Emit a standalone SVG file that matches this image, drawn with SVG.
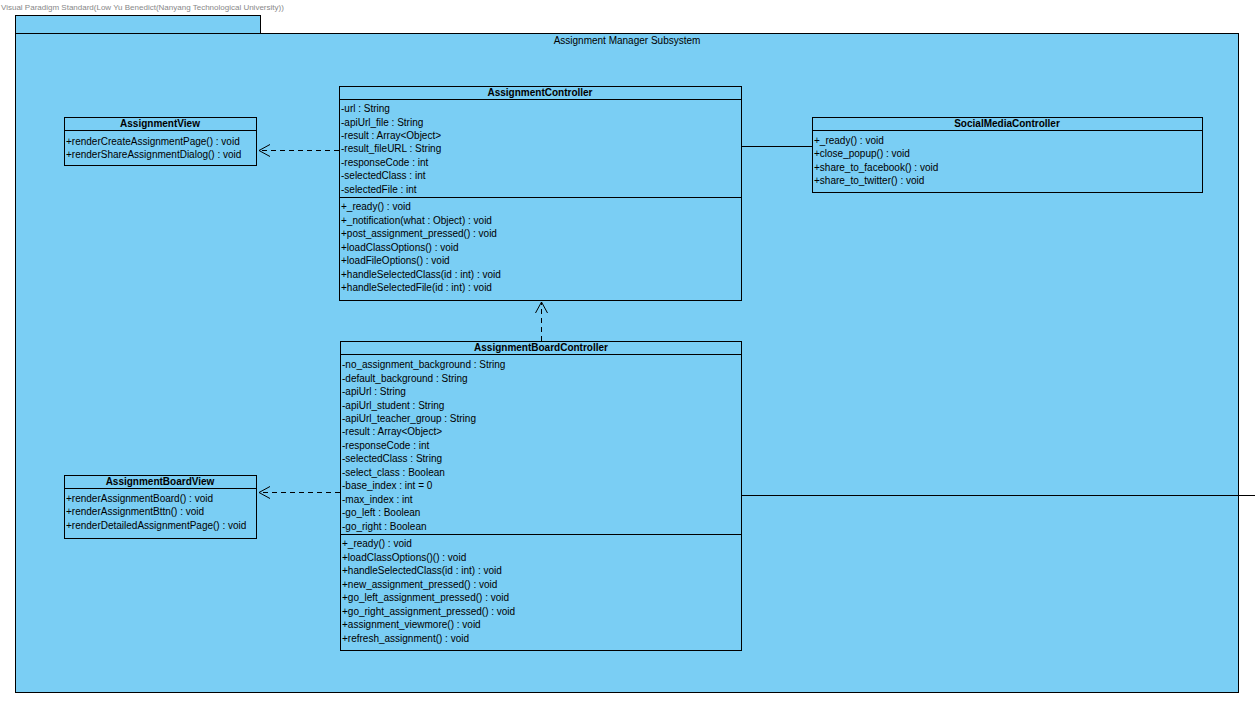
<svg xmlns="http://www.w3.org/2000/svg" width="1255" height="708" viewBox="0 0 1255 708">
<defs>
<style>
text{font-family:"Liberation Sans",Arial,sans-serif;font-size:10px;fill:#000}
.h{font-weight:bold;text-anchor:middle}
.box{fill:#7ACEF4;stroke:#000;stroke-width:1}
.sep{stroke:#000;stroke-width:1}
.dash{fill:none;stroke:#000;stroke-width:1;stroke-dasharray:5,4}
.solid{fill:none;stroke:#000;stroke-width:1}
.wm{font-size:8px;fill:#888}
</style>
<marker id="open" markerWidth="14" markerHeight="14" refX="12" refY="7" orient="auto" markerUnits="userSpaceOnUse" overflow="visible">
<path d="M1,1 L12,7 L1,13" fill="none" stroke="#000" stroke-width="1" stroke-dasharray="none"/>
</marker>
</defs>
<rect width="1255" height="708" fill="#fff"/>
<text class="wm" x="1" y="10">Visual Paradigm Standard(Low Yu Benedict(Nanyang Technological University))</text>
<g id="package">
<rect class="box" x="15.5" y="15.5" width="245" height="18"/>
<rect class="box" x="15.5" y="33.5" width="1223" height="659"/>
<text x="627" y="44" text-anchor="middle">Assignment Manager Subsystem</text>
</g>
<g id="connectors">
<line class="dash" x1="339" y1="150.5" x2="259" y2="150.5" marker-end="url(#open)"/>
<line class="dash" x1="340" y1="492.5" x2="259" y2="492.5" marker-end="url(#open)"/>
<line class="dash" x1="541.5" y1="341" x2="541.5" y2="302" marker-end="url(#open)"/>
<line class="solid" x1="741" y1="146.5" x2="812" y2="146.5"/>
<line class="solid" x1="741" y1="495.5" x2="1255" y2="495.5"/>
</g>
<g id="AssignmentView">
<rect class="box" x="64.5" y="117.5" width="192" height="48"/>
<line class="sep" x1="64.5" y1="130.5" x2="256.5" y2="130.5"/>
<text class="h" x="160" y="127">AssignmentView</text>
<text x="66" y="145">+renderCreateAssignmentPage() : void</text>
<text x="66" y="158">+renderShareAssignmentDialog() : void</text>
</g>
<g id="AssignmentController">
<rect class="box" x="339.5" y="86.5" width="402" height="214"/>
<line class="sep" x1="339.5" y1="99.5" x2="741.5" y2="99.5"/>
<line class="sep" x1="339.5" y1="197.5" x2="741.5" y2="197.5"/>
<text class="h" x="540" y="96">AssignmentController</text>
<text x="341" y="112">-url : String</text>
<text x="341" y="125.5">-apiUrl_file : String</text>
<text x="341" y="139">-result : Array&lt;Object&gt;</text>
<text x="341" y="152">-result_fileURL : String</text>
<text x="341" y="166">-responseCode : int</text>
<text x="341" y="179">-selectedClass : int</text>
<text x="341" y="193">-selectedFile : int</text>
<text x="341" y="210">+_ready() : void</text>
<text x="341" y="224">+_notification(what : Object) : void</text>
<text x="341" y="237">+post_assignment_pressed() : void</text>
<text x="341" y="251">+loadClassOptions() : void</text>
<text x="341" y="264">+loadFileOptions() : void</text>
<text x="341" y="278">+handleSelectedClass(id : int) : void</text>
<text x="341" y="291">+handleSelectedFile(id : int) : void</text>
</g>
<g id="SocialMediaController">
<rect class="box" x="812.5" y="117.5" width="390" height="75"/>
<line class="sep" x1="812.5" y1="130.5" x2="1202.5" y2="130.5"/>
<text class="h" x="1007" y="127">SocialMediaController</text>
<text x="814" y="144">+_ready() : void</text>
<text x="814" y="157">+close_popup() : void</text>
<text x="814" y="171">+share_to_facebook() : void</text>
<text x="814" y="184">+share_to_twitter() : void</text>
</g>
<g id="AssignmentBoardController">
<rect class="box" x="340.5" y="341.5" width="401" height="309"/>
<line class="sep" x1="340.5" y1="354.5" x2="741.5" y2="354.5"/>
<line class="sep" x1="340.5" y1="534.5" x2="741.5" y2="534.5"/>
<text class="h" x="541" y="351">AssignmentBoardController</text>
<text x="342" y="368">-no_assignment_background : String</text>
<text x="342" y="382">-default_background : String</text>
<text x="342" y="395">-apiUrl : String</text>
<text x="342" y="409">-apiUrl_student : String</text>
<text x="342" y="422">-apiUrl_teacher_group : String</text>
<text x="342" y="435">-result : Array&lt;Object&gt;</text>
<text x="342" y="449">-responseCode : int</text>
<text x="342" y="462">-selectedClass : String</text>
<text x="342" y="476">-select_class : Boolean</text>
<text x="342" y="489">-base_index : int = 0</text>
<text x="342" y="503">-max_index : int</text>
<text x="342" y="516">-go_left : Boolean</text>
<text x="342" y="530">-go_right : Boolean</text>
<text x="342" y="547">+_ready() : void</text>
<text x="342" y="561">+loadClassOptions()() : void</text>
<text x="342" y="574">+handleSelectedClass(id : int) : void</text>
<text x="342" y="588">+new_assignment_pressed() : void</text>
<text x="342" y="601">+go_left_assignment_pressed() : void</text>
<text x="342" y="615">+go_right_assignment_pressed() : void</text>
<text x="342" y="628">+assignment_viewmore() : void</text>
<text x="342" y="642">+refresh_assignment() : void</text>
</g>
<g id="AssignmentBoardView">
<rect class="box" x="64.5" y="475.5" width="192" height="63"/>
<line class="sep" x1="64.5" y1="488.5" x2="256.5" y2="488.5"/>
<text class="h" x="160" y="485">AssignmentBoardView</text>
<text x="66" y="502">+renderAssignmentBoard() : void</text>
<text x="66" y="515">+renderAssignmentBttn() : void</text>
<text x="66" y="529">+renderDetailedAssignmentPage() : void</text>
</g>
</svg>
